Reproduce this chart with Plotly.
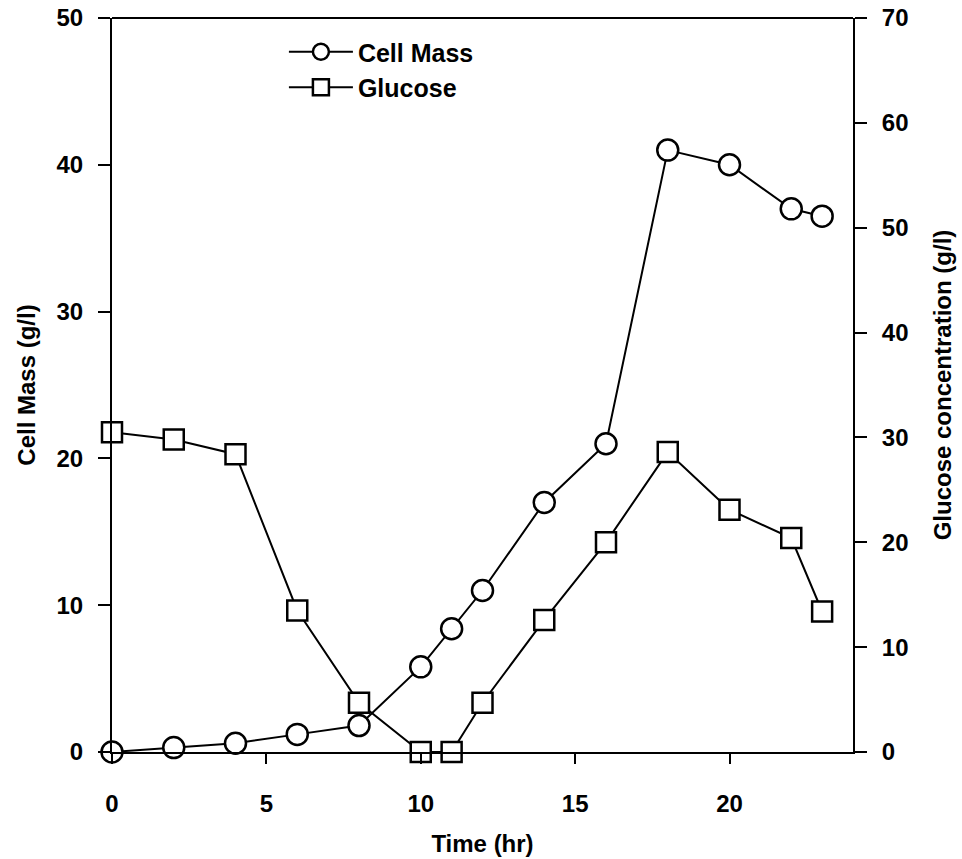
import plotly.graph_objects as go

# Fermentation time course
time_hr = [0, 2, 4, 6, 8, 10, 11, 12, 14, 16, 18, 20, 22, 23]
cell_mass = [0.0, 0.3, 0.6, 1.2, 1.8, 5.8, 8.4, 11.0, 17.0, 21.0, 41.0, 40.0, 37.0, 36.5]
glucose = [30.5, 29.8, 28.4, 13.5, 4.7, 0.0, 0.0, 4.7, 12.6, 20.0, 28.6, 23.1, 20.4, 13.4]

x_ticks = [0, 5, 10, 15, 20]
left_ticks = [0, 10, 20, 30, 40, 50]
right_ticks = [0, 10, 20, 30, 40, 50, 60, 70]

FONT = "Liberation Sans, Arial, sans-serif"
TICK_FONT = dict(family=FONT, size=24, color="black", weight="bold")
TITLE_FONT = dict(family=FONT, size=24, color="black", weight="bold")

fig = go.Figure()
fig.add_trace(go.Scatter(
    x=time_hr, y=cell_mass, name="Cell Mass", mode="lines+markers",
    line=dict(color="black", width=2),
    marker=dict(symbol="circle", size=21, color="white",
                line=dict(color="black", width=2.5)),
    cliponaxis=False, yaxis="y",
))
fig.add_trace(go.Scatter(
    x=time_hr, y=glucose, name="Glucose", mode="lines+markers",
    line=dict(color="black", width=2),
    marker=dict(symbol="square", size=20, color="white",
                line=dict(color="black", width=2.5)),
    cliponaxis=False, yaxis="y2",
))

axis_common = dict(
    showgrid=False, zeroline=False, showline=True, linecolor="black",
    linewidth=2, ticks="outside", tickwidth=2, tickcolor="black",
    tickfont=TICK_FONT, automargin=False,
)

fig.update_layout(
    width=962, height=859,
    margin=dict(l=112, r=109, t=18, b=107),
    paper_bgcolor="white", plot_bgcolor="white",
    font=dict(family=FONT, color="black"),
    showlegend=True,
    legend=dict(
        x=0.232, y=0.985, xanchor="left", yanchor="top",
        bgcolor="rgba(0,0,0,0)", borderwidth=0,
        font=dict(family=FONT, size=25, color="black", weight="bold"),
        tracegroupgap=0, itemsizing="trace", itemwidth=64,
    ),
    xaxis=dict(
        **axis_common, ticklen=10, range=[0, 24], tickvals=x_ticks,
        ticklabelstandoff=19,
        title=dict(text="Time (hr)", font=TITLE_FONT, standoff=19),
    ),
    yaxis=dict(
        **axis_common, ticklen=12, range=[0, 50], tickvals=left_ticks,
        ticklabelstandoff=10,
        title=dict(text="Cell Mass (g/l)", font=TITLE_FONT, standoff=14),
    ),
    yaxis2=dict(
        **axis_common, ticklen=12, range=[0, 70], tickvals=right_ticks,
        overlaying="y", side="right", ticklabelstandoff=10,
        title=dict(text="Glucose concentration (g/l)", font=TITLE_FONT, standoff=27),
    ),
    shapes=[dict(type="line", xref="paper", yref="paper", x0=0, x1=1, y0=1, y1=1,
                 line=dict(color="black", width=2))],
)

fig.write_html("out.html")
